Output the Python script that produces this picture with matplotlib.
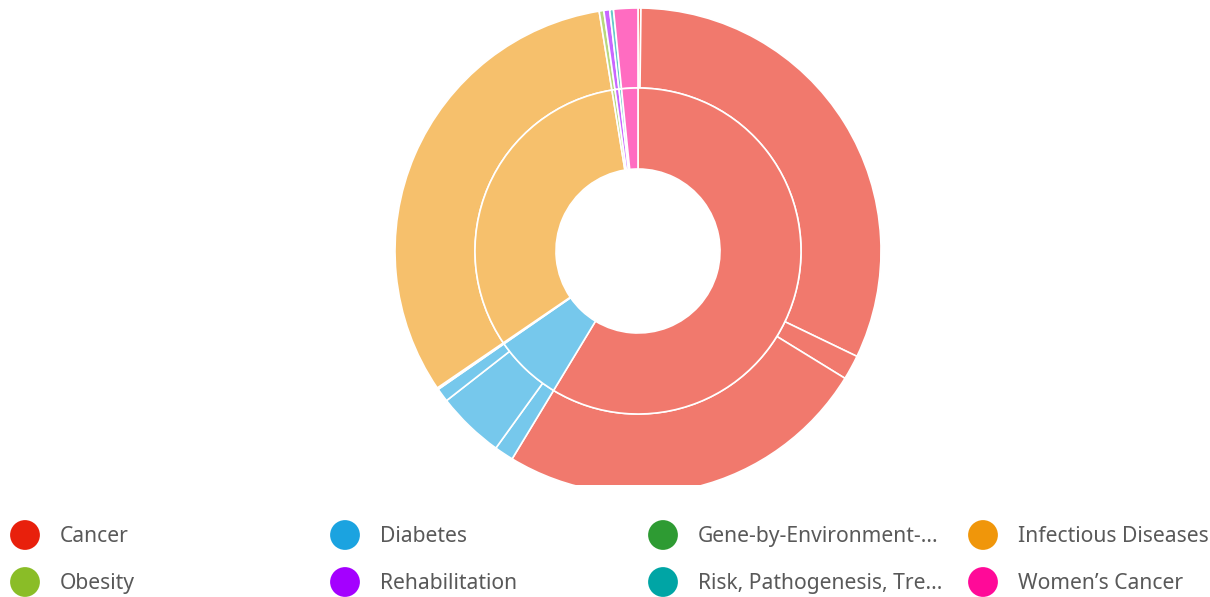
import numpy as np
import matplotlib.pyplot as plt
from matplotlib.colors import to_rgb

# категории (внутреннее кольцо) и подкатегории (внешнее кольцо)
categories = ['Cancer', 'Diabetes', 'Gene-by-Environment-...', 'Infectious Diseases',
              'Obesity', 'Rehabilitation', 'Risk, Pathogenesis, Tre...', "Women\u2019s Cancer"]
colors = ['#E8200C', '#1BA3E0', '#2E9B33', '#F0960A',
          '#8ABD27', '#A400FF', '#00A5A5', '#FF0A98']

# размеры подкатегорий по каждой категории
sub_values = [
    [0.7, 115.0, 5.9, 89.6],   # Cancer
    [4.6, 16.2, 3.3],          # Diabetes
    [0.4],                     # Gene-by-Environment
    [115.1],                   # Infectious Diseases
    [1.1],                     # Obesity
    [1.4],                     # Rehabilitation
    [0.9],                     # Risk, Pathogenesis
    [5.8],                     # Women's Cancer
]
inner_values = [sum(v) for v in sub_values]


def light(c, a=0.6):
    r = np.array(to_rgb(c))
    return tuple(a * r + (1 - a) * 1.0)


W, H = 1210, 597
fig = plt.figure(figsize=(W / 100, H / 100), dpi=100)

# область диаграммы обрезана снизу
chart_h = 485
ax = fig.add_axes([0, (H - chart_h) / H, 1, chart_h / H])
cx, cy = 638, chart_h - 251
R_out, R_mid, R_in = 243, 163, 82

outer_vals = [v for sub in sub_values for v in sub]
outer_cols = [light(colors[i]) for i, sub in enumerate(sub_values) for _ in sub]

wp = dict(edgecolor='white', linewidth=1.2)
w1, _ = ax.pie(outer_vals, colors=outer_cols, radius=R_out, center=(cx, cy),
               startangle=90, counterclock=False,
               wedgeprops=dict(width=R_out - R_mid, **wp))
w2, _ = ax.pie(inner_values, colors=[light(c) for c in colors], radius=R_mid, center=(cx, cy),
               startangle=90, counterclock=False,
               wedgeprops=dict(width=R_mid - R_in, **wp))
for w in list(w1) + list(w2):
    w.set_clip_on(True)
    w.set_clip_path(ax.patch)
ax.set_xlim(0, W)
ax.set_ylim(0, chart_h)
ax.set_aspect('equal')
ax.axis('off')

# легенда: 2 строки по 4 колонки
lax = fig.add_axes([0, 0, 1, (H - chart_h) / H])
lax.set_xlim(0, W)
lax.set_ylim(H - chart_h, 0)
lax.axis('off')
col_x = [25, 345, 663, 983]
row_y = [535 - chart_h, 582 - chart_h]
for i, name in enumerate(categories):
    x = col_x[i % 4]
    y = row_y[i // 4]
    lax.scatter([x], [y], s=460, color=colors[i], edgecolors='none', clip_on=False)
    lax.text(x + 35, y + 1.5, name, fontsize=15.2, family='Noto Sans', color='#595959',
             va='center', ha='left')

fig.savefig('out.png', dpi=100)
